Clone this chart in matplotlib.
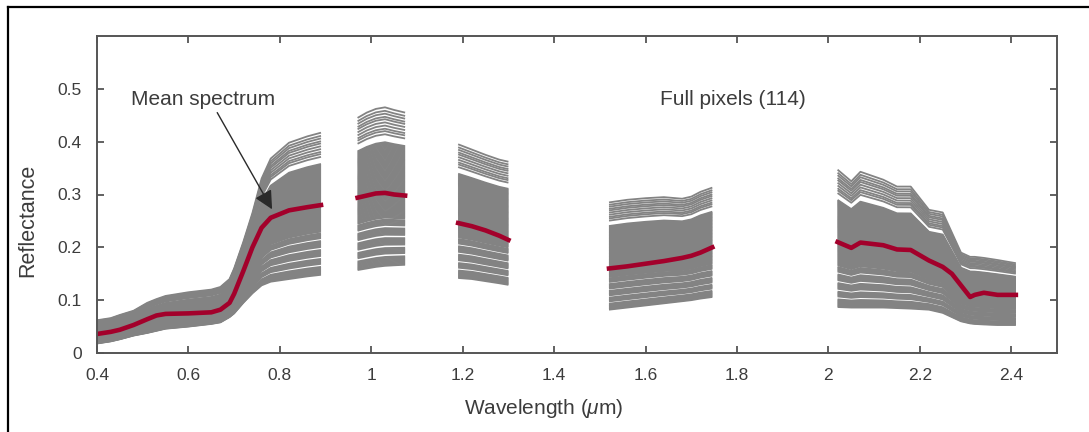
import numpy as np
import matplotlib
matplotlib.use('Agg')
import matplotlib.pyplot as plt
from matplotlib.lines import Line2D

nan = np.nan

# wavelength samples (um), NaN marks the water absorption gaps
wavelength = [0.40, 0.43, 0.45, 0.48, 0.51, 0.53, 0.55, 0.60, 0.65, 0.67, 0.69, 0.70, 0.72, 0.74, 0.76, 0.78, 0.82, 0.86, 0.89, nan,
              0.97, 0.99, 1.01, 1.03, 1.05, 1.074, nan,
              1.19, 1.22, 1.25, 1.28, 1.30, nan,
              1.52, 1.56, 1.60, 1.64, 1.68, 1.70, 1.72, 1.746, nan,
              2.02, 2.05, 2.07, 2.12, 2.15, 2.18, 2.22, 2.25, 2.27, 2.29, 2.31, 2.32, 2.34, 2.37, 2.41]

mean_spectrum = [0.036, 0.040, 0.044, 0.053, 0.064, 0.071, 0.074, 0.075, 0.077, 0.082, 0.095, 0.112, 0.155, 0.200, 0.237, 0.256, 0.270, 0.276, 0.280, nan,
                 0.294, 0.298, 0.302, 0.303, 0.300, 0.298, nan,
                 0.246, 0.240, 0.232, 0.222, 0.214, nan,
                 0.160, 0.164, 0.169, 0.174, 0.180, 0.184, 0.190, 0.200, nan,
                 0.210, 0.199, 0.209, 0.204, 0.196, 0.195, 0.175, 0.163, 0.150, 0.128, 0.106, 0.110, 0.114, 0.110, 0.110]

upper_pixel = [0.062, 0.066, 0.072, 0.080, 0.095, 0.102, 0.108, 0.115, 0.120, 0.125, 0.140, 0.160, 0.210, 0.265, 0.330, 0.368, 0.398, 0.410, 0.417, nan,
               0.445, 0.455, 0.462, 0.465, 0.460, 0.455, nan,
               0.395, 0.385, 0.375, 0.366, 0.362, nan,
               0.285, 0.290, 0.293, 0.295, 0.292, 0.296, 0.305, 0.313, nan,
               0.347, 0.325, 0.343, 0.328, 0.315, 0.315, 0.271, 0.266, 0.228, 0.190, 0.182, 0.182, 0.180, 0.176, 0.170]

lower_pixel = [0.018, 0.022, 0.026, 0.033, 0.038, 0.042, 0.046, 0.050, 0.055, 0.058, 0.068, 0.075, 0.095, 0.113, 0.128, 0.135, 0.140, 0.145, 0.148, nan,
               0.157, 0.160, 0.163, 0.165, 0.166, 0.167, nan,
               0.142, 0.140, 0.136, 0.132, 0.129, nan,
               0.082, 0.086, 0.090, 0.094, 0.098, 0.100, 0.103, 0.106, nan,
               0.087, 0.086, 0.086, 0.086, 0.085, 0.084, 0.082, 0.076, 0.068, 0.060, 0.056, 0.055, 0.054, 0.053, 0.053]

# relative position of each of the 114 pixel spectra between the darkest and brightest one
pixel_position = [1.00, 0.978, 0.96, 0.94, 0.925, 0.905, 0.885, 0.865, 0.85, 0.83,
                  0.780, 0.773, 0.766, 0.759, 0.752, 0.745, 0.738, 0.731, 0.724, 0.717,
                  0.710, 0.703, 0.696, 0.689, 0.682, 0.675, 0.668, 0.661, 0.654, 0.647,
                  0.640, 0.633, 0.626, 0.619, 0.612, 0.605, 0.598, 0.591, 0.584, 0.577,
                  0.570, 0.563, 0.556, 0.549, 0.542, 0.535, 0.528, 0.521, 0.514, 0.507,
                  0.500, 0.493, 0.486, 0.479, 0.472, 0.465, 0.458, 0.451, 0.444, 0.437,
                  0.430, 0.423, 0.416, 0.409, 0.402, 0.395, 0.388, 0.381, 0.374, 0.367,
                  0.360, 0.353, 0.346, 0.339, 0.332, 0.325, 0.318, 0.311, 0.304,
                  0.292, 0.286, 0.279, 0.272, 0.265, 0.258,
                  0.238, 0.231, 0.224, 0.217, 0.210, 0.203, 0.196,
                  0.175, 0.168, 0.161, 0.154, 0.147, 0.140, 0.133,
                  0.112, 0.105, 0.098, 0.091, 0.084, 0.077,
                  0.056, 0.049, 0.042, 0.035, 0.028, 0.021, 0.014, 0.007, 0.0]

xticks = [0.4, 0.6, 0.8, 1.0, 1.2, 1.4, 1.6, 1.8, 2.0, 2.2, 2.4]
yticks = [0, 0.1, 0.2, 0.3, 0.4, 0.5]

text_color = '#3c3c3c'
axis_color = '#555555'

plt.rcParams['font.family'] = ['Liberation Sans', 'DejaVu Sans']
plt.rcParams['mathtext.fontset'] = 'custom'
plt.rcParams['mathtext.it'] = 'Liberation Sans:italic'
plt.rcParams['mathtext.rm'] = 'Liberation Sans'

fig = plt.figure(figsize=(10.89, 4.32), dpi=100)
ax = fig.add_axes([97 / 1089, 1 - 353 / 432, 960 / 1089, 317 / 432])

wl = np.array(wavelength)
lo = np.array(lower_pixel)
hi = np.array(upper_pixel)
for t in pixel_position:
    ax.plot(wl, lo + t * (hi - lo), color='#838383', linewidth=1.3, solid_capstyle='butt')

ax.plot(wl, mean_spectrum, color='#a3002b', linewidth=3.3)

ax.text(0.632, 0.48, 'Mean spectrum', fontsize=15, color=text_color, ha='center', va='center')
ax.annotate('', xy=(0.783, 0.272), xytext=(0.663, 0.455),
            arrowprops=dict(arrowstyle='-|>', color='#2a2a2a', lw=1.0, mutation_scale=28,
                            shrinkA=0, shrinkB=0))
ax.text(1.792, 0.48, 'Full pixels (114)', fontsize=15, color=text_color, ha='center', va='center')

ax.set_xlim(0.4, 2.5)
ax.set_ylim(0, 0.6)
ax.set_xticks(xticks)
ax.set_xticklabels(['%g' % v for v in xticks])
ax.set_yticks(yticks)
ax.set_yticklabels(['%g' % v for v in yticks])
ax.tick_params(direction='in', length=5, width=1.3, colors=axis_color, labelcolor=text_color,
               labelsize=12.5, pad=11, top=True, right=True)
for s in ax.spines.values():
    s.set_color(axis_color)
    s.set_linewidth(1.4)

fig.text(28 / 1089, 1 - 220 / 432, 'Reflectance', rotation=90, fontsize=15.5,
         color=text_color, ha='center', va='center')
fig.text(544 / 1089, 1 - 409 / 432, r'Wavelength ($\mu$m)', fontsize=15,
         color=text_color, ha='center', va='center')

# frame around the figure (cut at right and bottom)
fx, fy = 8 / 1089, 1 - 7 / 432
fig.add_artist(Line2D([fx, 1.0], [fy, fy], color='black', linewidth=1.6, transform=fig.transFigure))
fig.add_artist(Line2D([fx, fx], [fy, 0.0], color='black', linewidth=1.6, transform=fig.transFigure))

fig.savefig('out.png', dpi=100)
